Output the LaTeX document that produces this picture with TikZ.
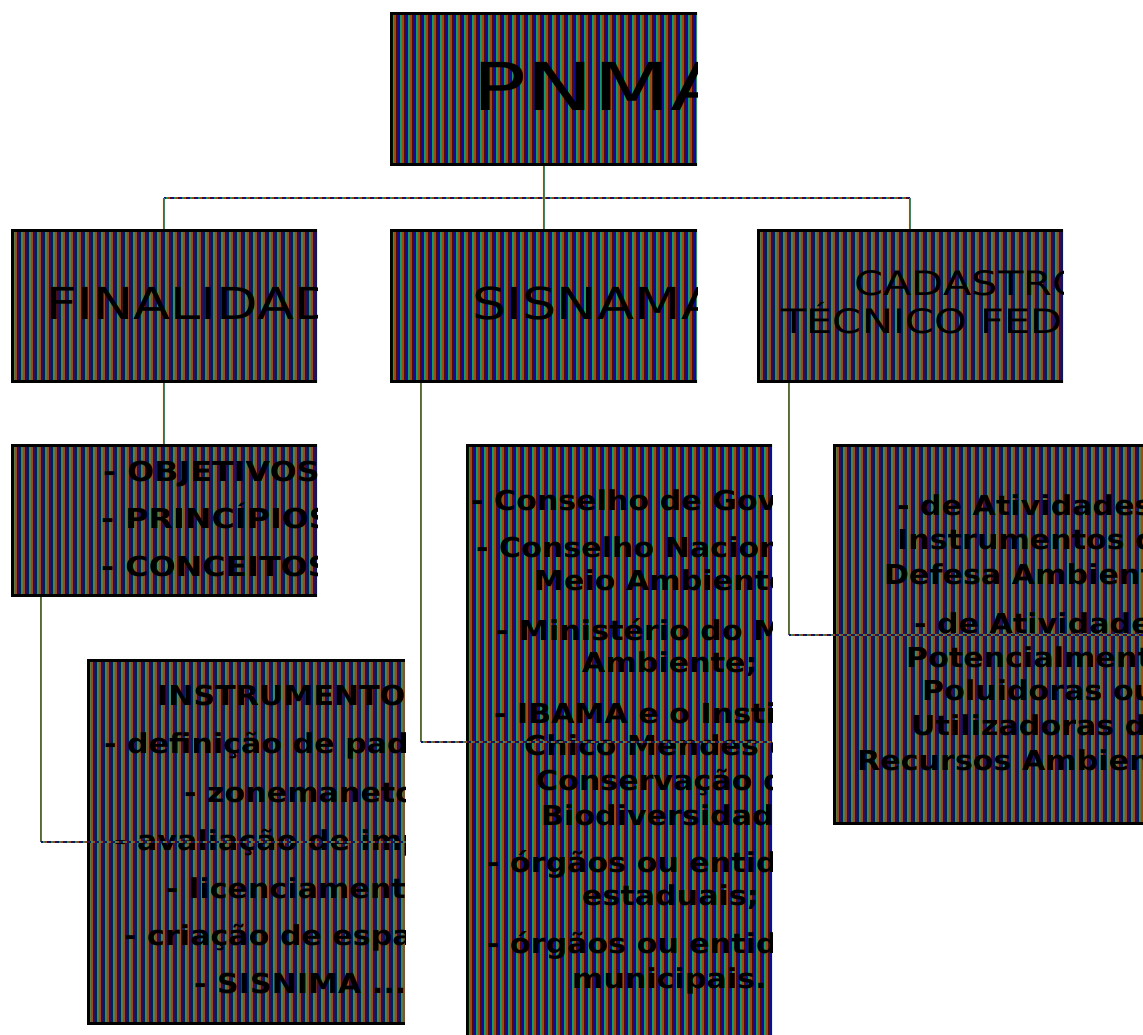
\documentclass[tikz,border=0pt]{standalone}
\usepackage{fontspec}
\usepackage{graphicx}
\setmainfont{DejaVu Sans}
\usetikzlibrary{fit}

% stripe palette of the box fills and connectors
\definecolor{cOr}{HTML}{A04A12}
\definecolor{cGr}{HTML}{149A62}
\definecolor{cBl}{HTML}{0C0C9C}
\definecolor{cDk}{HTML}{520A0E}

\newcounter{lno}
% one line of text: x, baseline, size, horizontal stretch, text
\newcommand{\txt}[5]{%
  \stepcounter{lno}%
  \node[anchor=base west, inner sep=0pt, font=\fontsize{#3}{#3}\selectfont]
    (ln\arabic{lno}) at (#1,#2) {\scalebox{#4}[1]{#5}};}

% striped box open on its right side: name, left, top, right, bottom
\newcommand{\stripebox}[5]{%
  \coordinate (#1-nw) at (#2,#3);
  \coordinate (#1-se) at (#4,#5);
  \node[fit=(#1-nw)(#1-se), inner sep=0pt] (#1) {};
  \begin{scope}
    \clip (#2,#3) rectangle (#4,#5);
    \fill[cDk] (#2,#3) rectangle (#4,#5);
    \pgfmathtruncatemacro\nst{(#4-#2)/8+1}
    \foreach \k in {0,...,\nst}{
      \fill[cBl] ({#2+8*\k},#3) rectangle ++(2,{#5-#3});
      \fill[cGr] ({#2+8*\k+2},#3) rectangle ++(2,{#5-#3});
      \fill[cOr] ({#2+8*\k+4},#3) rectangle ++(2,{#5-#3});
    }
  \end{scope}
  \draw[line width=3pt, line join=miter]
    (#4,{#3+1.5}) -- ({#2+1.5},{#3+1.5}) -- ({#2+1.5},{#5-1.5}) -- (#4,{#5-1.5});
}

% vertical connector piece: orange and green halves
\newcommand{\vseg}[2]{%
  \draw[line width=1pt, cOr] ([xshift=-0.5pt]#1) -- ([xshift=-0.5pt]#2);
  \draw[line width=1pt, cGr] ([xshift=0.5pt]#1) -- ([xshift=0.5pt]#2);}
% horizontal connector piece: dotted in the stripe colours
\newcommand{\hseg}[2]{%
  \draw[line width=2pt, cDk] (#1) -- (#2);
  \draw[line width=2pt, cBl, dash pattern=on 2pt off 6pt] (#1) -- (#2);
  \draw[line width=2pt, cGr, dash pattern=on 2pt off 6pt, dash phase=-2pt] (#1) -- (#2);
  \draw[line width=2pt, cOr, dash pattern=on 2pt off 6pt, dash phase=-4pt] (#1) -- (#2);}

\begin{document}
\begin{tikzpicture}[x=1pt, y=-1pt]
\useasboundingbox (0,0) rectangle (1143,1034);
\fill[white] (0,0) rectangle (1143,1034);

% boxes
\stripebox{pnma}{390}{12}{697}{166}
\stripebox{fin}{11}{229}{317}{383}
\stripebox{sis}{390}{229}{697}{383}
\stripebox{cad}{757}{229}{1063}{383}
\stripebox{obj}{11}{444}{317}{597}
\stripebox{inst}{87}{659}{405}{1025}
\stripebox{sisl}{466}{444}{772}{1040}
\stripebox{cadl}{833}{444}{1143}{825}

% titles
\begin{scope}
  \clip (pnma-nw) rectangle (pnma-se);
  \txt{472}{110}{66}{1.36}{PNMA}
\end{scope}
\begin{scope}
  \clip (fin-nw) rectangle (fin-se);
  \txt{46}{319}{44}{1.23}{FINALIDADE}
\end{scope}
\begin{scope}
  \clip (sis-nw) rectangle (sis-se);
  \txt{472}{319}{44}{1.23}{SISNAMA}
\end{scope}
\begin{scope}
  \clip (cad-nw) rectangle (cad-se);
  \txt{854}{295}{33.6}{1.24}{CADASTRO}
  \txt{781}{333}{33.6}{1.24}{TÉCNICO FEDERAL}
\end{scope}

% lists
\begin{scope}
  \clip (obj-nw) rectangle (obj-se);
  \txt{103}{481}{27.4}{1.16}{\bfseries - OBJETIVOS;}
  \txt{101}{528}{27.4}{1.16}{\bfseries - PRINCÍPIOS;}
  \txt{101}{576}{27.4}{1.16}{\bfseries - CONCEITOS.}
\end{scope}
\begin{scope}
  \clip (inst-nw) rectangle (inst-se);
  \txt{157}{705}{27.4}{1.1}{\bfseries INSTRUMENTOS:}
  \txt{104}{753}{27.4}{1.1}{\bfseries - definição de padrões;}
  \txt{184}{802}{27.4}{1.1}{\bfseries - zonemaneto;}
  \txt{114}{850}{27.4}{1.1}{\bfseries - avaliação de impactos;}
  \txt{166}{898}{27.4}{1.1}{\bfseries - licenciamento;}
  \txt{124}{945}{27.4}{1.1}{\bfseries - criação de espaços;}
  \txt{194}{993}{27.4}{1.1}{\bfseries - SISNIMA ...}
\end{scope}
\begin{scope}
  \clip (sisl-nw) rectangle (sisl-se);
  \txt{471}{510}{27.4}{1.1}{\bfseries - Conselho de Governo;}
  \txt{476}{557}{27.4}{1.1}{\bfseries - Conselho Nacional do}
  \txt{534}{590}{27.4}{1.1}{\bfseries Meio Ambiente;}
  \txt{496}{640}{27.4}{1.1}{\bfseries - Ministério do Meio}
  \txt{582}{672}{27.4}{1.1}{\bfseries Ambiente;}
  \txt{494}{723}{27.4}{1.1}{\bfseries - IBAMA e o Instituto}
  \txt{524}{755}{27.4}{1.1}{\bfseries Chico Mendes de}
  \txt{536}{790}{27.4}{1.1}{\bfseries Conservação da}
  \txt{541}{825}{27.4}{1.1}{\bfseries Biodiversidade;}
  \txt{487}{872}{27.4}{1.1}{\bfseries - órgãos ou entidades}
  \txt{582}{905}{27.4}{1.1}{\bfseries estaduais;}
  \txt{487}{953}{27.4}{1.1}{\bfseries - órgãos ou entidades}
  \txt{572}{988}{27.4}{1.1}{\bfseries municipais.}
\end{scope}
\begin{scope}
  \clip (cadl-nw) rectangle (cadl-se);
  \txt{897}{515}{27.4}{1.1}{\bfseries - de Atividades e}
  \txt{897}{549}{27.4}{1.1}{\bfseries Instrumentos de}
  \txt{884}{584}{27.4}{1.1}{\bfseries Defesa Ambiental;}
  \txt{914}{633}{27.4}{1.1}{\bfseries - de Atividades}
  \txt{906}{667}{27.4}{1.1}{\bfseries Potencialmente}
  \txt{922}{700}{27.4}{1.1}{\bfseries Poluidoras ou}
  \txt{911}{735}{27.4}{1.1}{\bfseries Utilizadoras de}
  \txt{857}{770}{27.4}{1.1}{\bfseries Recursos Ambientais.}
\end{scope}

% connectors
\coordinate (bus) at (0,198);
\coordinate (objtap) at ([xshift=30pt]obj.south west);
\coordinate (sistap) at ([xshift=31pt]sis.south west);
\coordinate (cadtap) at ([xshift=32pt]cad.south west);

\hseg{fin.north |- bus}{cad.north |- bus}
\vseg{pnma.south}{pnma.south |- bus}
\vseg{fin.north |- bus}{fin.north}
\vseg{sis.north |- bus}{sis.north}
\vseg{cad.north |- bus}{cad.north}
\vseg{fin.south}{obj.north}

\vseg{objtap}{objtap |- inst.west}
\hseg{objtap |- inst.west}{inst.east}
\vseg{sistap}{sistap |- sisl.west}
\hseg{sistap |- sisl.west}{sisl.east}
\vseg{cadtap}{cadtap |- cadl.west}
\hseg{cadtap |- cadl.west}{cadl.east}
\end{tikzpicture}
\end{document}
